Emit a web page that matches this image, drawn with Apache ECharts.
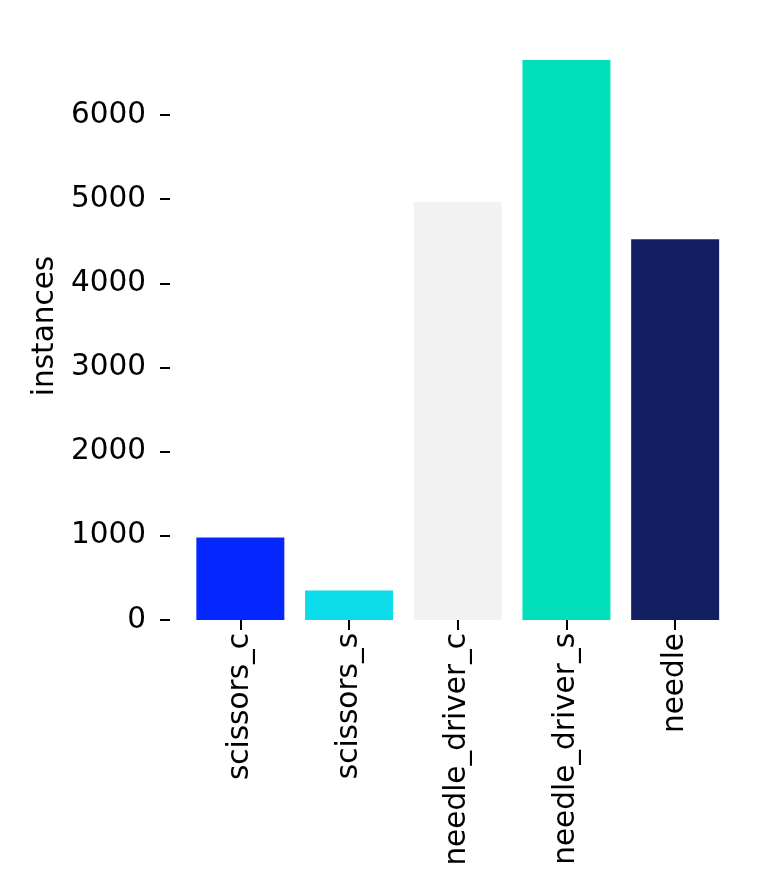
<!DOCTYPE html>
<html>
<head>
<meta charset="utf-8">
<script src="https://cdn.jsdelivr.net/npm/echarts@6/dist/echarts.min.js"></script>
<style>
html,body{margin:0;padding:0;background:#fff;}
#chart{width:766px;height:884px;}
</style>
</head>
<body>
<div id="chart"></div>
<script>
const categories = ['scissors_c', 'scissors_s', 'needle_driver_c', 'needle_driver_s', 'needle'];
const instances = [980, 350, 4966, 6654, 4525];
const barColors = ['#0626ff', '#0cdce9', '#f2f2f2', '#02e0bb', '#121f62'];
const yTicks = [0, 1000, 2000, 3000, 4000, 5000, 6000];

const chart = echarts.init(document.getElementById('chart'), null, {renderer: 'canvas'});
const font = 'DejaVu Sans';
const fs = 29.5;
chart.setOption({
  backgroundColor: '#ffffff',
  animation: false,
  grid: {left: 186, right: 36.5, top: 32, bottom: 884 - 620, containLabel: false},
  xAxis: {
    type: 'category',
    data: categories,
    axisLine: {show: false},
    axisTick: {show: true, alignWithLabel: true, length: 10, lineStyle: {color: '#000', width: 2}},
    axisLabel: {rotate: 90, margin: 13, color: '#000', fontFamily: font, fontSize: fs}
  },
  yAxis: {
    type: 'value',
    min: 0,
    max: 6987,
    interval: 1000,
    offset: 16,
    name: 'instances',
    nameLocation: 'middle',
    nameGap: 104,
    nameRotate: 90,
    nameTextStyle: {color: '#000', fontFamily: font, fontSize: fs},
    splitLine: {show: false},
    axisLine: {show: false},
    axisTick: {show: true, length: 10, lineStyle: {color: '#000', width: 2}},
    axisLabel: {
      margin: 24, color: '#000', fontFamily: font, fontSize: fs,
      showMaxLabel: false,
      formatter: v => (yTicks.indexOf(v) >= 0 ? String(v) : '')
    }
  },
  series: [{
    type: 'bar',
    barWidth: 88,
    data: instances.map((v, i) => ({value: v, itemStyle: {color: barColors[i]}}))
  }]
});
</script>
</body>
</html>
